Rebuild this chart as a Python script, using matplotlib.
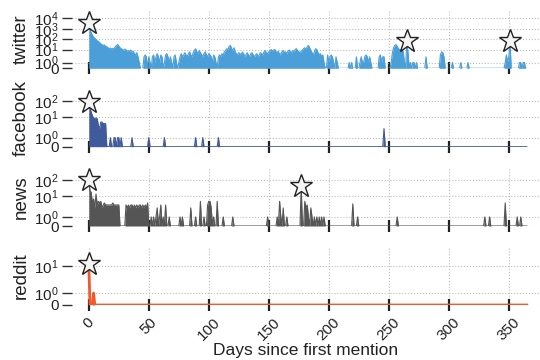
import numpy as np
import matplotlib
matplotlib.use("Agg")
import matplotlib.pyplot as plt
from matplotlib.ticker import FixedLocator, NullLocator

plt.rcParams['font.family'] = ['Liberation Sans', 'DejaVu Sans']

# ---------------- data ----------------
days = np.arange(366)

twitter = [
    4000, 900, 400, 250, 150, 120, 90, 70, 60, 45,
    35, 30, 25, 28, 20, 18, 15, 12, 14, 11,
    13, 12, 18, 25, 30, 22, 15, 12, 10, 8,
    11, 9, 7, 8, 6, 9, 5, 7, 4, 3,
    5, 2, 1, 0, 0, 0, 2, 3, 2, 0,
    2, 1, 0, 2, 3, 1, 2, 4, 2, 1,
    3, 2, 0, 1, 3, 4, 2, 1, 2, 1,
    0, 2, 3, 1, 0, 1, 2, 4, 2, 3,
    5, 3, 2, 4, 6, 3, 2, 5, 8, 12,
    6, 4, 8, 5, 3, 2, 4, 6, 3, 2,
    4, 3, 2, 1, 3, 2, 1, 0, 2, 3,
    2, 4, 3, 6, 8, 12, 10, 20, 25, 12,
    8, 15, 6, 4, 3, 5, 4, 3, 6, 4,
    2, 3, 5, 3, 2, 4, 5, 3, 2, 3,
    4, 2, 3, 5, 4, 3, 6, 8, 5, 4,
    6, 8, 10, 7, 9, 10, 6, 5, 7, 3,
    4, 6, 8, 5, 6, 4, 7, 9, 6, 5,
    8, 6, 10, 12, 8, 6, 5, 7, 9, 12,
    15, 10, 18, 25, 15, 8, 5, 3, 6, 12,
    10, 5, 3, 4, 2, 3, 1, 0, 0, 3,
    1, 2, 3, 2, 1, 0, 2, 1, 0, 0,
    0, 0, 0, 0, 0, 0, 0, 1, 0, 1,
    0, 0, 0, 2, 0, 0, 1, 2, 1, 1,
    2, 3, 2, 1, 2, 1, 0, 0, 0, 0,
    0, 0, 2, 3, 1, 2, 2, 0, 0, 0,
    0, 0, 1, 5, 15, 25, 30, 20, 12, 10,
    8, 12, 6, 1, 0, 60, 5, 0, 1, 0,
    1, 1, 0, 1, 0, 0, 0, 0, 0, 0,
    0, 2, 0, 0, 0, 0, 0, 0, 0, 0,
    0, 0, 0, 3, 6, 5, 2, 0, 0, 0,
    0, 0, 0, 1, 0, 0, 0, 0, 0, 0,
    1, 0, 0, 0, 0, 0, 1, 0, 0, 0,
    0, 0, 0, 0, 0, 0, 0, 0, 0, 0,
    0, 0, 0, 0, 0, 0, 0, 0, 0, 0,
    0, 0, 0, 0, 0, 0, 0, 1, 3, 1,
    2, 60, 0, 0, 0, 0, 0, 0, 0, 1,
    1, 0, 1, 1, 0, 0,
]

fb_days = [0, 1, 2, 3, 4, 5, 6, 7, 8, 9, 10, 11, 12, 13, 14,
           18, 21, 22, 24, 25, 27, 36, 50, 63, 89, 95, 108, 246]
fb_vals = [85, 35, 20, 12, 9, 8, 9, 8, 3, 2, 5, 5, 4, 4, 4,
           1, 1, 1, 1, 1, 1, 1, 1, 1, 1, 1, 1, 2]

news_days = [0, 1, 2, 3, 4, 5, 6, 7, 8, 9, 10, 11, 12, 13, 14, 15, 16, 17,
             18, 19, 20, 21, 22, 23, 24, 25,
             31, 32, 33, 34, 35, 36, 37, 38, 39, 40, 41, 42, 43, 44, 45, 46,
             47, 48, 49, 52, 54, 56, 57, 59, 60, 62, 64, 67, 76, 78, 85, 89,
             93, 96, 99, 100, 101, 102, 104, 107, 112, 120, 149, 157, 159,
             160, 162, 165, 177, 180, 181, 182, 183, 185, 186, 188, 190, 192,
             194, 196, 220, 224, 257, 330, 334, 347, 357, 360]
news_vals = [100, 21, 18, 4, 7, 2, 14, 3, 5, 4, 5, 2, 3, 4, 3, 3, 3, 3,
             3, 3, 4, 3, 3, 3, 3, 3,
             3, 2, 3, 2, 3, 3, 2, 3, 2, 3, 2, 3, 3, 2, 3, 2,
             3, 2, 4, 1, 1, 1, 2, 1, 3, 1, 3, 1, 1, 1, 2, 1,
             5, 1, 3, 5, 5, 2, 1, 5, 1, 1, 1, 1, 5,
             1, 2, 1, 43, 5, 2, 3, 1, 2, 1, 1, 1, 1,
             1, 1, 3.5, 1, 1, 1, 1, 4, 1, 1]

reddit_days = [0, 4]
reddit_vals = [12, 1]

names = ['twitter', 'facebook', 'news', 'reddit']
colors = ['#4a9fd9', '#3f5b9b', '#555555', '#f4572a']
star_days = [[0, 265, 351], [0], [0, 177], [0]]
yticks = [[0, 1, 10, 100, 1000, 10000], [0, 1, 10, 100], [0, 1, 10, 100], [0, 1, 10]]
ytop = [60000, 550, 550, 78]
xticks = [0, 50, 100, 150, 200, 250, 300, 350]


def dense(d, v):
    arr = np.zeros(len(days))
    arr[np.array(d)] = v
    return arr


series = [np.array(twitter, dtype=float), dense(fb_days, fb_vals),
          dense(news_days, news_vals), dense(reddit_days, reddit_vals)]

# ---------------- figure ----------------
W, H = 540, 360
fig = plt.figure(figsize=(W / 100, H / 100), dpi=100)

left_px, right_px = 72, 540
zero_px = [68.3, 146.7, 226.0, 305.0]
h_px = 58
line_w = [0.8, 0.8, 0.8, 2.0]

for i, name in enumerate(names):
    ax = fig.add_axes([left_px / W, (H - zero_px[i]) / H,
                       (right_px - left_px) / W, h_px / H])
    vals = series[i]
    ax.set_yscale('symlog', linthresh=2, linscale=1)
    ax.fill_between(days, 0, vals, color=colors[i], lw=0, zorder=2)
    ax.plot(days, vals, color=colors[i], lw=line_w[i], zorder=3)
    for sd in star_days[i]:
        ax.plot(sd, vals[sd], marker='*', ms=17, mfc='#f4f4f4', mec='#222222',
                mew=1.0, zorder=6, clip_on=False)
    ax.set_xlim(-14, 376)
    ax.set_ylim(0, ytop[i])
    ax.yaxis.set_major_locator(FixedLocator(yticks[i]))
    ax.yaxis.set_minor_locator(NullLocator())
    ax.set_yticklabels(['0'] + [r'$\mathdefault{10^{%d}}$' % k
                                for k in range(len(yticks[i]) - 1)])
    ax.xaxis.set_major_locator(FixedLocator(xticks))
    ax.xaxis.set_minor_locator(NullLocator())
    for s in ax.spines.values():
        s.set_visible(False)
    ax.grid(True, ls=':', color='#bdbdbd', lw=0.8, zorder=0)
    ax.set_axisbelow(True)
    ax.tick_params(axis='y', length=7, width=1.0, color='#333333',
                   labelsize=11, pad=2.5, labelcolor='#222222')
    ax.tick_params(axis='x', direction='inout', length=8, width=1.6,
                   color='#222222', labelsize=11, labelcolor='#222222')
    ax.set_ylabel(name, fontsize=13.5, color='#222222', labelpad=3)
    if i < 3:
        ax.tick_params(axis='x', labelbottom=False)
    else:
        plt.setp(ax.get_xticklabels(), rotation=45)
        ax.set_xlabel('Days since first mention', fontsize=12.5,
                      color='#222222')
        ax.xaxis.set_label_coords(0.5, -(343 - zero_px[i]) / h_px)

fig.savefig('out.png', dpi=100)
